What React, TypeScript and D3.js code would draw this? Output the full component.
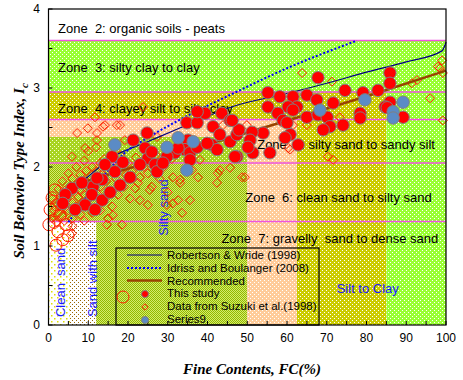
import React from "react";
import * as d3 from "d3";

// ---------- data ----------
const xTicks = [0, 10, 20, 30, 40, 50, 60, 70, 80, 90, 100];
const yTicks = [0, 1, 2, 3, 4];
const zoneBoundaries = [1.31, 2.05, 2.6, 2.95, 3.6];

// Robertson & Wride (1998)
const rwFC = [5, 10, 17, 24, 31, 38, 46, 60, 70, 80, 90, 99, 100];
const rwIc = [1.64, 1.88, 2.15, 2.3, 2.45, 2.6, 2.76, 2.93, 3.06, 3.2, 3.33, 3.47, 3.58];
// Idriss and Boulanger (2008)
const ibFC = [5, 10, 15, 19, 25, 35, 46, 60, 77.6];
const ibIc = [1.3, 1.65, 1.95, 2.17, 2.37, 2.65, 2.92, 3.25, 3.6];
// Recommended
const recFC = [5, 45.7, 83.4, 100];
const recIc = [1.75, 2.37, 2.95, 3.22];

// This study (filled red circles)
const studyFC = [24.8, 21.3, 16.0, 14.2, 16.7, 13.5, 18.7, 20.5, 24.3, 25.0, 26.8, 27.3, 26.0, 34.8, 35.1, 34.3, 35.6, 37.4, 31.8, 32.6,
  38.1, 39.4, 43.6, 37.4, 41.4, 43.1, 45.7, 41.1, 42.4, 45.7, 47.4, 47.4, 35.6, 67.8, 85.9, 85.9, 74.6, 55.2, 58.2, 61.5,
  65.0, 67.5, 79.1, 82.9, 55.2, 62.5, 60.3, 61.5, 71.6, 85.9, 84.7, 89.2, 57.7, 59.0, 65.0, 67.8, 70.1, 78.4, 78.4, 74.1,
  70.8, 69.1, 60.0, 54.0, 51.2, 50.7, 47.9, 46.2, 60.8, 59.5, 62.8, 51.4, 55.7, 46.9, 50.2, 37.4, 29.8, 28.8, 39.9, 11.2,
  85.2, 5.9, 8.4, 10.9, 4.2, 13.5, 9.2, 6.7, 15.5, 18.0, 3.6, 11.7, 12.2, 23.0];
const studyIc = [2.43, 2.34, 2.13, 2.03, 1.94, 1.84, 2.06, 1.87, 2.24, 2.11, 2.03, 1.94, 2.19, 2.56, 2.34, 2.22, 2.18, 2.25, 2.18, 2.24,
  2.68, 2.68, 2.68, 2.56, 2.51, 2.41, 2.59, 2.28, 2.22, 2.32, 2.41, 2.13, 2.09, 3.13, 3.19, 3.06, 2.97, 2.94, 2.89, 2.89,
  2.91, 2.85, 2.94, 2.97, 2.76, 2.76, 2.76, 2.72, 2.81, 2.82, 2.76, 2.63, 2.68, 2.59, 2.63, 2.66, 2.63, 2.68, 2.62, 2.53,
  2.51, 2.47, 2.56, 2.43, 2.44, 2.34, 2.47, 2.59, 2.41, 2.37, 2.28, 2.18, 2.18, 2.13, 2.25, 2.70, 2.13, 2.05, 2.30, 1.75,
  2.75, 1.73, 1.80, 1.65, 1.65, 1.58, 1.52, 1.46, 1.68, 1.77, 1.54, 1.46, 1.86, 2.03];

// Series9 (blue circles)
const s9FC = [16.7, 29.8, 32.6, 36.4, 34.8, 68.3, 79.6, 89.2, 86.7, 86.7];
const s9Ic = [2.28, 2.25, 2.37, 2.32, 1.96, 2.72, 2.85, 2.82, 2.70, 2.62];

// hollow circles
const hollowFC = [0.9, 0.4, 1.4, 2.4, 3.6, 4.9, 1.9, 2.9, 1.6, 4.4, 0.1, 2.1];
const hollowIc = [1.61, 1.46, 1.30, 1.18, 1.08, 1.13, 1.01, 1.39, 1.71, 1.27, 1.27, 1.52];

// Data from Suzuki et al. (1998) (hollow diamonds)
const suzFC = [23.8, 11.7, 13.7, 7.2, 9.9, 17.2, 19.2, 12.2, 9.2, 5.9, 27.3, 31.3, 33.1, 38.1, 42.4, 43.1, 37.6, 63.8, 71.3, 91.4,
  96.0, 99.0, 98.5, 99.2, 92.7, 98.0, 99.2, 73.3, 65.0, 61.5, 60.8, 70.3, 71.6, 49.4, 16.2, 14.7, 18.5, 25.0, 29.8, 33.6,
  35.6, 31.3, 14.2, 18.0, 12.2, 23.0, 21.8, 25.5, 33.1, 32.6, 36.1, 45.7, 48.7, 43.9, 49.9, 42.6, 60.3, 5.9,
  1, 1.5, 2, 2.5, 3, 3, 3.5, 4, 4, 4.5, 5, 5, 5.5, 6, 6, 6.5, 7, 7, 7.5, 8, 8, 8.5, 9, 9, 9.5, 10, 10, 10.5, 11, 11,
  11.5, 12, 12, 12.5, 13, 13, 13.5, 14, 14, 14.5, 15, 15.5, 16, 16, 17, 17.5, 18, 18, 19, 19.5, 20, 20.5, 21, 22, 22.5,
  23, 24, 25, 26, 27, 28, 29, 30, 31, 2, 4, 6, 8, 1, 2.5, 3.5, 5, 7, 9, 10, 12, 6, 9, 11, 13, 15];
const suzIc = [2.76, 2.63, 2.51, 2.43, 2.49, 2.53, 2.34, 2.34, 2.24, 2.13, 2.38, 1.87, 1.80, 2.09, 1.80, 1.96, 1.87, 3.19, 3.08, 3.06,
  2.87, 3.35, 3.25, 3.19, 3.10, 3.27, 2.59, 2.63, 2.53, 2.53, 2.22, 2.13, 2.09, 1.87, 1.39, 1.27, 1.27, 1.52, 1.52, 1.42,
  1.58, 1.54, 2.53, 2.53, 2.43, 1.87, 1.73, 1.71, 1.84, 1.58, 1.96, 1.99, 1.87, 2.53, 2.53, 1.92, 2.24, 1.16,
  1.35, 1.45, 1.55, 1.42, 1.5, 1.62, 1.38, 1.48, 1.7, 1.58, 1.45, 1.65, 1.75, 1.55, 1.85, 1.68, 1.5, 1.78, 1.62, 1.9, 1.7, 1.55, 1.82, 1.65, 1.95, 1.75, 1.6, 1.88, 2.0, 1.7,
  1.55, 1.82, 1.95, 1.65, 2.05, 1.75, 1.9, 1.6, 2.1, 1.82, 1.95, 1.7, 2.05, 1.5, 1.85, 1.65, 1.98, 2.15, 1.75, 1.9, 2.05, 1.6, 1.95, 2.12, 1.8,
  1.58, 2.0, 1.92, 1.75, 2.15, 1.85, 2.0, 1.68, 2.1, 1.3, 1.32, 1.35, 1.4, 1.6, 1.72, 1.82, 1.92, 2.0, 2.08, 2.2, 2.25, 1.25, 1.32, 1.42, 1.45, 1.35];

// background regions: [FC from, FC to, Ic from, Ic to, pattern]
const regions: [number, number, number, number, string][] = [
  [0, 100, 3.6, 4, "white"],
  [0, 100, 2.95, 3.6, "lime"],
  [0, 85, 2.6, 2.95, "olive"],
  [85, 100, 2.6, 2.95, "lime"],
  [0, 50, 2.38, 2.6, "salmon"],
  [0, 50, 2.05, 2.38, "greendots"],
  [0, 50, 0, 2.05, "checker"],
  [0, 5.4, 0, 1.31, "clean"],
  [5.4, 12, 0, 1.31, "siltsand"],
  [50, 62.5, 0, 2.6, "salmon"],
  [62.5, 85, 0, 2.6, "olive"],
  [85, 100, 0, 2.6, "lime"],
];

const zoneLabels = [
  { t: "Zone  2: organic soils - peats", fc: 2.4, ic: 3.7 },
  { t: "Zone  3: silty clay to clay", fc: 2.4, ic: 3.2 },
  { t: "Zone  4: clayey silt to silty clay", fc: 2.4, ic: 2.68 },
  { t: "Zone  5: silty sand to sandy silt", fc: 52.5, ic: 2.23 },
  { t: "Zone  6: clean sand to silty sand", fc: 49.5, ic: 1.56 },
  { t: "Zone  7: gravelly  sand to dense sand", fc: 43.5, ic: 1.04 },
];

const legendItems = ["Robertson & Wride (1998)", "Idriss and Boulanger (2008)", "Recommended", "This study", "Data from Suzuki et al.(1998)", "Series9"];

// ---------- chart ----------
const W = 463, H = 380;
const x = d3.scaleLinear().domain([0, 100]).range([48.5, 446]);
const y = d3.scaleLinear().domain([0, 4]).range([325, 9]);

const fill: Record<string, string> = {
  white: "#ffffff", lime: "url(#pLime)", olive: "url(#pOlive)", salmon: "url(#pSalmon)",
  greendots: "url(#pGreenDots)", checker: "url(#pChecker)", clean: "url(#pClean)", siltsand: "url(#pSiltSand)",
};

const diamond = (s: number) => `M0,${-s}L${s},0L0,${s}L${-s},0Z`;

function lineOf(fc: number[], ic: number[]) {
  const g = d3.line<number>().x((_, i) => x(fc[i])).y((d) => y(d)).curve(d3.curveMonotoneX);
  return g(ic) || "";
}

export default function App() {
  const font = "'Liberation Sans', Arial, sans-serif";
  const serif = "'Liberation Serif', 'Times New Roman', serif";
  const xMinor = d3.range(0, 101, 5);
  const yMinor = d3.range(0, 4.01, 0.5);
  return (
    <svg width={W} height={H} style={{ position: "absolute", left: 0, top: 0, background: "#fff" }} fontFamily={font}>
      <defs>
        <pattern id="pLime" width="4" height="4" patternUnits="userSpaceOnUse">
          <rect width="4" height="4" fill="#99ff33" />
          <rect x="0" y="0" width="1" height="1" fill="#fff" />
          <rect x="2" y="2" width="1" height="1" fill="#fff" />
        </pattern>
        <pattern id="pOlive" width="4" height="4" patternUnits="userSpaceOnUse">
          <rect width="4" height="4" fill="#cccc00" />
          <rect x="0" y="0" width="1" height="1" fill="#fff" />
          <rect x="2" y="2" width="1" height="1" fill="#fff" />
        </pattern>
        <pattern id="pSalmon" width="4" height="4" patternUnits="userSpaceOnUse">
          <rect width="4" height="4" fill="#ffcc99" />
          <rect x="0" y="0" width="1" height="1" fill="#fff" />
          <rect x="2" y="2" width="1" height="1" fill="#fff" />
        </pattern>
        <pattern id="pGreenDots" width="4" height="4" patternUnits="userSpaceOnUse">
          <rect width="4" height="4" fill="#a8d420" />
          <rect x="0" y="0" width="1" height="1" fill="#f4ffd0" />
          <rect x="2" y="2" width="1" height="1" fill="#f4ffd0" />
        </pattern>
        <pattern id="pChecker" width="2" height="2" patternUnits="userSpaceOnUse">
          <rect width="2" height="2" fill="#d4ec6c" />
          <rect x="0" y="0" width="1" height="1" fill="#92b800" />
          <rect x="1" y="1" width="1" height="1" fill="#92b800" />
        </pattern>
        <pattern id="pClean" width="6" height="6" patternUnits="userSpaceOnUse">
          <rect width="6" height="6" fill="#ffffff" />
          <rect x="0" y="0" width="1.5" height="1.5" fill="#e0e000" />
          <rect x="3" y="3" width="1.5" height="1.5" fill="#e0e000" />
        </pattern>
        <pattern id="pSiltSand" width="4" height="4" patternUnits="userSpaceOnUse">
          <rect width="4" height="4" fill="#ffffff" />
          <rect x="0" y="0" width="1" height="1" fill="#996600" />
          <rect x="2" y="2" width="1" height="1" fill="#996600" />
        </pattern>
      </defs>

      {/* backgrounds */}
      {regions.map((r, i) => (
        <rect key={i} x={x(r[0])} y={y(r[3])} width={x(r[1]) - x(r[0])} height={y(r[2]) - y(r[3])} fill={fill[r[4]]} />
      ))}

      {/* zone boundary lines */}
      {zoneBoundaries.map((b) => (
        <line key={b} x1={x(0)} x2={x(100)} y1={y(b)} y2={y(b)} stroke="#ee55dd" strokeWidth={1.5} />
      ))}

      {/* zone labels */}
      {zoneLabels.map((z) => (
        <text key={z.t} x={x(z.fc)} y={y(z.ic)} fontSize={13} fill="#000" style={{ whiteSpace: "pre" }}>{z.t}</text>
      ))}
      <text x={x(72.5)} y={y(0.4)} fontSize={13} fill="#1a1aff">Silt to Clay</text>
      <text transform={`translate(${x(30)},${y(1.13)}) rotate(-90)`} fontSize={13} fill="#1a1aff">Silty sand</text>
      <text transform={`translate(${x(4.2)},${y(0.1)}) rotate(-90)`} fontSize={13} fill="#1a1aff" style={{ whiteSpace: "pre" }}>Clean  sand</text>
      <text transform={`translate(${x(12.2)},${y(0.1)}) rotate(-90)`} fontSize={13} fill="#1a1aff">Sand with silt</text>

      {/* Suzuki diamonds */}
      {suzFC.map((f, i) => (
        <path key={"s" + i} d={diamond(4.5)} transform={`translate(${x(f)},${y(suzIc[i])})`} fill="none" stroke="#ff2000" strokeWidth={1} />
      ))}
      {/* hollow circles */}
      {hollowFC.map((f, i) => (
        <circle key={"h" + i} cx={x(f)} cy={y(hollowIc[i])} r={6} fill="none" stroke="#ff2000" strokeWidth={1} />
      ))}

      {/* lines */}
      <path d={lineOf(rwFC, rwIc)} fill="none" stroke="#000080" strokeWidth={1.2} />
      <path d={lineOf(ibFC, ibIc)} fill="none" stroke="#0000ff" strokeWidth={2} strokeDasharray="2,2" />
      <path d={lineOf(recFC, recIc)} fill="none" stroke="#994400" strokeWidth={2.5} />

      {/* This study */}
      {studyFC.map((f, i) => (
        <circle key={"c" + i} cx={x(f)} cy={y(studyIc[i])} r={6.2} fill="#ff0000" stroke="#808080" strokeWidth={1} />
      ))}
      {/* Series9 */}
      {s9FC.map((f, i) => (
        <circle key={"b" + i} cx={x(f)} cy={y(s9Ic[i])} r={6.2} fill="#5b8bc5" stroke="#808080" strokeWidth={1} />
      ))}

      {/* frame and ticks */}
      <rect x={x(0)} y={y(4)} width={x(100) - x(0)} height={y(0) - y(4)} fill="none" stroke="#000" strokeWidth={1.2} />
      {xMinor.map((t) => (
        <line key={"xt" + t} x1={x(t)} x2={x(t)} y1={y(0)} y2={y(0) - 4} stroke="#000" />
      ))}
      {yMinor.map((t) => (
        <line key={"yt" + t} x1={x(0)} x2={x(0) + 4} y1={y(t)} y2={y(t)} stroke="#000" />
      ))}
      {xTicks.map((t) => (
        <text key={"xl" + t} x={x(t)} y={y(0) + 17} fontSize={12} textAnchor="middle" fill="#000">{t}</text>
      ))}
      {yTicks.map((t) => (
        <text key={"yl" + t} x={40} y={y(t) + 4} fontSize={12} textAnchor="end" fill="#000">{t}</text>
      ))}

      {/* legend */}
      <rect x={116} y={248} width={203} height={y(0) - 248} fill="none" stroke="#000" strokeWidth={1.2} />
      {legendItems.map((t, i) => (
        <text key={t} x={167} y={259 + i * 12.8} fontSize={11.5} fill="#000">{t}</text>
      ))}
      <line x1={127} x2={162} y1={255} y2={255} stroke="#000080" strokeWidth={1.2} />
      <line x1={127} x2={162} y1={268} y2={268} stroke="#0000ff" strokeWidth={2} strokeDasharray="2,2" />
      <line x1={127} x2={162} y1={280.5} y2={280.5} stroke="#994400" strokeWidth={2.5} />
      <circle cx={123} cy={297} r={6} fill="none" stroke="#ff2000" />
      <circle cx={145} cy={294} r={3.5} fill="#ff0000" stroke="#808080" />
      <path d={diamond(3.2)} transform="translate(145,307)" fill="none" stroke="#ff2000" />
      <circle cx={145} cy={320} r={3.5} fill="#5b8bc5" stroke="#808080" />

      {/* axis titles */}
      <text x={252} y={374} fontSize={15} fontFamily={serif} fontWeight="bold" fontStyle="italic" textAnchor="middle">Fine Contents, FC(%)</text>
      <text transform={`translate(24,${y(1.95)}) rotate(-90)`} fontSize={15} fontFamily={serif} fontWeight="bold" fontStyle="italic" textAnchor="middle">
        Soil Behavior Type Index, I<tspan fontSize={11} dy={4}>c</tspan>
      </text>
    </svg>
  );
}
